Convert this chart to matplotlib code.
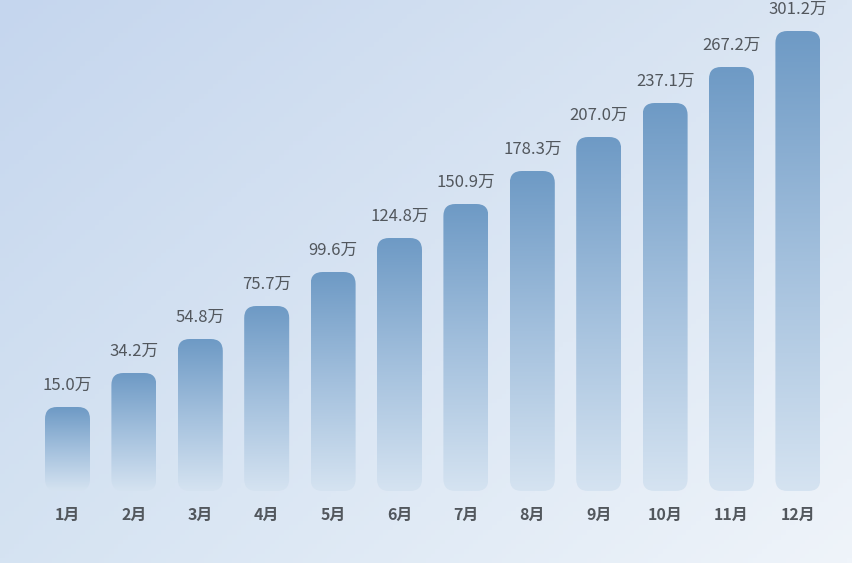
import numpy as np
import matplotlib
matplotlib.use("Agg")
import matplotlib.pyplot as plt
from matplotlib.patches import FancyBboxPatch
from matplotlib.colors import LinearSegmentedColormap, to_rgb

plt.rcParams['font.family'] = ['Noto Sans CJK SC', 'DejaVu Sans']

# ---- data ----
months = ["1月", "2月", "3月", "4月", "5月", "6月", "7月", "8月", "9月", "10月", "11月", "12月"]
values = [15.0, 34.2, 54.8, 75.7, 99.6, 124.8, 150.9, 178.3, 207.0, 237.1, 267.2, 301.2]
# displayed bar heights as drawn in the picture (not proportional to values)
bar_heights = [84, 118, 152, 185, 219, 253, 287, 320, 354, 388, 424, 460]
value_labels = [f"{v:.1f}万" for v in values]

W, H, DPI = 852, 563, 100
fig = plt.figure(figsize=(W / DPI, H / DPI), dpi=DPI)

# ---- background gradient (bilinear between four corner colours) ----
bg = fig.add_axes([0, 0, 1, 1])
bg.set_axis_off()
ny, nx = 120, 180
yy, xx = np.mgrid[0:1:ny * 1j, 0:1:nx * 1j]
tl = np.array(to_rgb("#c5d6ee"))
tr = np.array(to_rgb("#dbe6f3"))
bl = np.array(to_rgb("#d5e3f2"))
br = np.array(to_rgb("#eff4fa"))
X = xx[..., None]
Y = yy[..., None]
img = (tl * (1 - X) * (1 - Y) + tr * X * (1 - Y) + bl * (1 - X) * Y + br * X * Y)
bg.imshow(img, extent=[0, 1, 0, 1], aspect='auto', origin='upper')
bg.set_xlim(0, 1)
bg.set_ylim(0, 1)

# ---- main axes ----
left_px, right_px = 34.3, 831.1
bottom_px_from_top = 491
ax_h_px = 480
ax = fig.add_axes([left_px / W, (H - bottom_px_from_top) / H,
                   (right_px - left_px) / W, ax_h_px / H])
ax.set_facecolor('none')
ax.set_xlim(-0.5, len(months) - 0.5)
ax.set_ylim(0, 480)
for s in ax.spines.values():
    s.set_visible(False)
ax.set_xticks([])
ax.set_yticks([])

px_per_x = (right_px - left_px) / len(months)
px_per_y = ax_h_px / 480
aspect = px_per_x / px_per_y

bar_w = 45 / px_per_x
radius = 12 / px_per_x

cmap = LinearSegmentedColormap.from_list(
    "barfade", ["#d5e3f1", "#a3c0dd", "#6e9ac5"])
grad = np.linspace(0, 1, 256)[:, None]

x = np.arange(len(months))
for xi, h, lab, m in zip(x, bar_heights, value_labels, months):
    patch = FancyBboxPatch((xi - bar_w / 2, 0), bar_w, h,
                           boxstyle=f"round,pad=0,rounding_size={radius}",
                           mutation_aspect=aspect,
                           facecolor='none', edgecolor='none', zorder=2)
    ax.add_patch(patch)
    im = ax.imshow(grad, extent=[xi - bar_w / 2, xi + bar_w / 2, 0, h],
                   origin='lower', aspect='auto', cmap=cmap, zorder=2)
    im.set_clip_path(patch)
    ax.annotate(lab, xy=(xi, h), xytext=(0, 15.5), textcoords='offset points',
                ha='center', va='center', fontsize=12, color='#52575d',
                annotation_clip=False)
    ax.annotate(m, xy=(xi, 0), xytext=(0, -17.5), textcoords='offset points',
                ha='center', va='center', fontsize=11.5, fontweight='bold',
                color='#52575d', annotation_clip=False)

ax.set_xlim(-0.5, len(months) - 0.5)
ax.set_ylim(0, 480)

fig.savefig("out.png", dpi=DPI)
